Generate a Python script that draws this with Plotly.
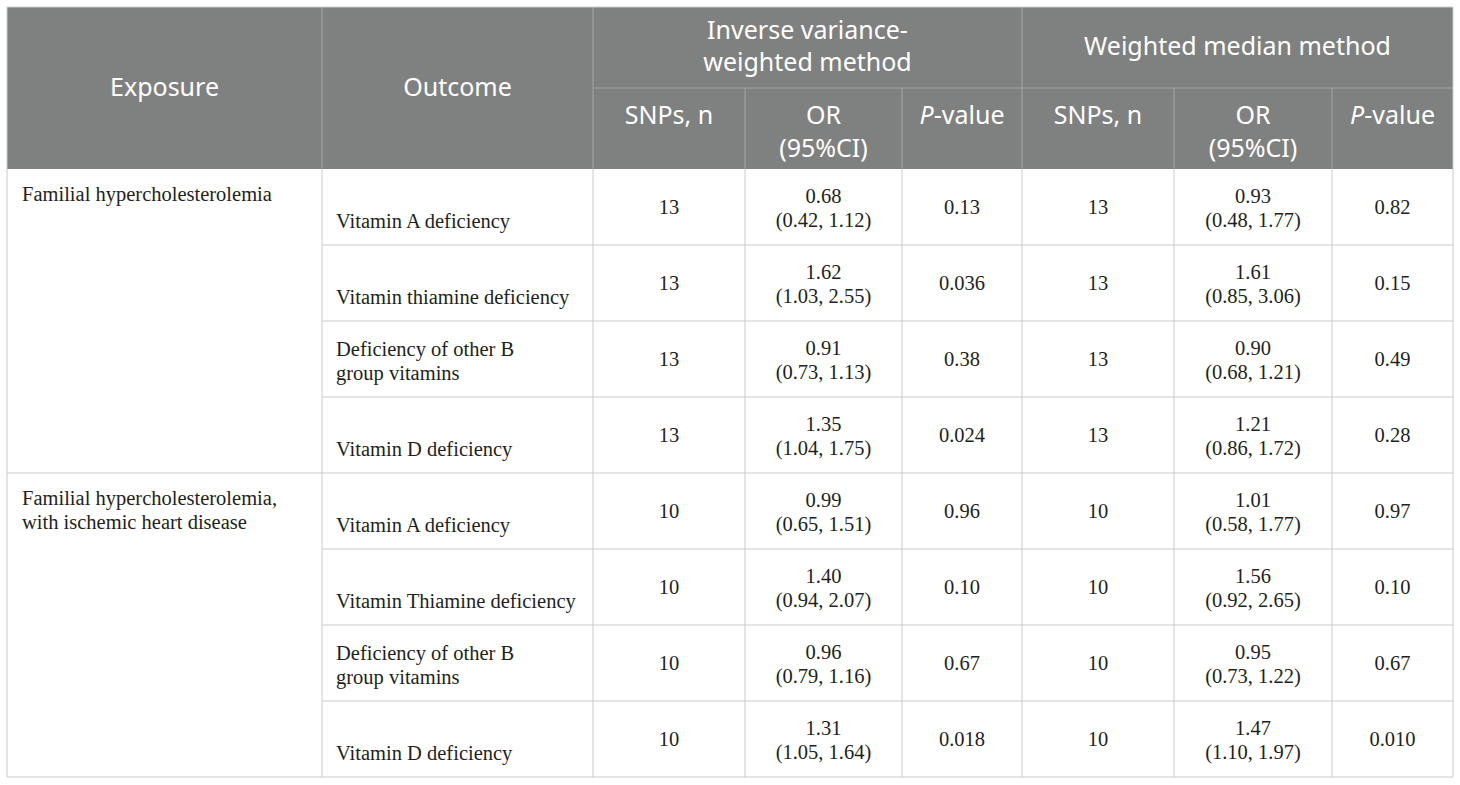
import plotly.graph_objects as go

# ---- table content ----
exposures = ["Familial hypercholesterolemia",
             "Familial hypercholesterolemia,<br>with ischemic heart disease"]
outcomes = ["Vitamin A deficiency", "Vitamin thiamine deficiency",
            "Deficiency of other B<br>group vitamins", "Vitamin D deficiency",
            "Vitamin A deficiency", "Vitamin Thiamine deficiency",
            "Deficiency of other B<br>group vitamins", "Vitamin D deficiency"]
head_left = ["Exposure", "Outcome"]
methods = ["Inverse variance-<br>weighted method", "Weighted median method"]
sub_cols = ["SNPs, n", "OR<br>(95%CI)", "<i>P</i>-value"]

ivw_snps = [13, 13, 13, 13, 10, 10, 10, 10]
ivw_or = ["0.68", "1.62", "0.91", "1.35", "0.99", "1.40", "0.96", "1.31"]
ivw_ci = ["(0.42, 1.12)", "(1.03, 2.55)", "(0.73, 1.13)", "(1.04, 1.75)",
          "(0.65, 1.51)", "(0.94, 2.07)", "(0.79, 1.16)", "(1.05, 1.64)"]
ivw_p = ["0.13", "0.036", "0.38", "0.024", "0.96", "0.10", "0.67", "0.018"]

wm_snps = [13, 13, 13, 13, 10, 10, 10, 10]
wm_or = ["0.93", "1.61", "0.90", "1.21", "1.01", "1.56", "0.95", "1.47"]
wm_ci = ["(0.48, 1.77)", "(0.85, 3.06)", "(0.68, 1.21)", "(0.86, 1.72)",
         "(0.58, 1.77)", "(0.92, 2.65)", "(0.73, 1.22)", "(1.10, 1.97)"]
wm_p = ["0.82", "0.15", "0.49", "0.28", "0.97", "0.10", "0.67", "0.010"]

# ---- grid geometry (pixels) ----
W, H = 1460, 785
col_x = [7, 322, 593, 745, 902, 1022, 1174, 1332, 1453]
TOP, HEAD_MID, HEAD_BOT = 7, 88, 169
ROW_H = 76
PER_GROUP = len(outcomes) // len(exposures)
row_top = [HEAD_BOT + i * ROW_H for i in range(len(outcomes))]
BOTTOM = HEAD_BOT + len(outcomes) * ROW_H

HEAD_BG = "#7f8180"
HEAD_LINE = "#a3a4a3"
BODY_LINE = "#cacaca"
TEXT = "#231f20"
SANS = "Noto Sans"
SERIF = "Liberation Serif"
HEAD_SIZE = 25
HEAD_GAP = HEAD_SIZE * 1.3   # plotly's own line spacing for <br>
BODY_GAP = 24                # body lines are placed one by one


def center(c):
    return (col_x[c] + col_x[c + 1]) / 2


def put(store, x, y_first, label, gap):
    for i, line in enumerate(str(label).split("<br>")):
        store[0].append(x)
        store[1].append(y_first + i * gap)
        store[2].append(line)


def put_block(store, x, y_mid, label):
    store[0].append(x)
    store[1].append(y_mid)
    store[2].append(label)


head = ([], [], [])
body_c = ([], [], [])
body_l = ([], [], [])

# header texts (multi-line labels kept as one text)
for c, lab in enumerate(head_left):
    put_block(head, center(c), (TOP + HEAD_BOT) / 2 + 2, lab)
for m, lab in enumerate(methods):
    x = (col_x[2 + 3 * m] + col_x[5 + 3 * m]) / 2
    put_block(head, x, (TOP + HEAD_MID) / 2 + 1, lab)
for m in range(2):
    for k, lab in enumerate(sub_cols):
        n = lab.count("<br>")
        put_block(head, center(2 + 3 * m + k),
                  HEAD_MID + 30 + n * HEAD_GAP / 2, lab)

# body texts
for g, lab in enumerate(exposures):
    put(body_l, col_x[0] + 15, row_top[g * PER_GROUP] + 27, lab, BODY_GAP)
for r, lab in enumerate(outcomes):
    n = lab.count("<br>")
    put(body_l, col_x[1] + 14, row_top[r] + 54 - n * BODY_GAP, lab, BODY_GAP)

for m, (snps, orv, ci, p) in enumerate([(ivw_snps, ivw_or, ivw_ci, ivw_p),
                                        (wm_snps, wm_or, wm_ci, wm_p)]):
    c0 = 2 + 3 * m
    for r in range(len(outcomes)):
        t = row_top[r]
        put(body_c, center(c0), t + 40, snps[r], BODY_GAP)
        put(body_c, center(c0 + 1), t + 29, f"{orv[r]}<br>{ci[r]}", BODY_GAP)
        put(body_c, center(c0 + 2), t + 40, p[r], BODY_GAP)

fig = go.Figure()
fig.add_trace(go.Scatter(x=head[0], y=head[1], text=head[2], mode="text",
                         textposition="middle center",
                         textfont=dict(family=SANS, size=HEAD_SIZE,
                                       color="white")))
fig.add_trace(go.Scatter(x=body_c[0], y=body_c[1], text=body_c[2], mode="text",
                         textposition="middle center",
                         textfont=dict(family=SERIF, size=20.5, color=TEXT)))
fig.add_trace(go.Scatter(x=body_l[0], y=body_l[1], text=body_l[2], mode="text",
                         textposition="middle right",
                         textfont=dict(family=SERIF, size=20.5, color=TEXT)))

# ---- grid shapes ----
shapes = [dict(type="rect", x0=col_x[0], x1=col_x[-1], y0=TOP, y1=HEAD_BOT,
               fillcolor=HEAD_BG, line_width=0, layer="below")]


def vline(x, y0, y1, color):
    shapes.append(dict(type="line", x0=x, x1=x, y0=y0, y1=y1,
                       line=dict(color=color, width=1), layer="below"))


def hline(y, x0, x1, color):
    shapes.append(dict(type="line", x0=x0, x1=x1, y0=y, y1=y,
                       line=dict(color=color, width=1), layer="below"))


# header separators
for c in (1, 2, 5):
    vline(col_x[c], TOP, HEAD_BOT, HEAD_LINE)
for c in (3, 4, 6, 7):
    vline(col_x[c], HEAD_MID, HEAD_BOT, HEAD_LINE)
hline(HEAD_MID, col_x[2], col_x[-1], HEAD_LINE)

# body grid
for x in col_x:
    vline(x, HEAD_BOT, BOTTOM, BODY_LINE)
for r in range(1, len(outcomes)):
    x0 = col_x[0] if r % PER_GROUP == 0 else col_x[1]
    hline(row_top[r], x0, col_x[-1], BODY_LINE)
hline(BOTTOM, col_x[0], col_x[-1], BODY_LINE)
hline(TOP, col_x[0], col_x[-1], BODY_LINE)
vline(col_x[0], TOP, HEAD_BOT, BODY_LINE)
vline(col_x[-1], TOP, HEAD_BOT, BODY_LINE)

fig.update_layout(
    width=W, height=H,
    margin=dict(l=0, r=0, t=0, b=0),
    paper_bgcolor="white", plot_bgcolor="white",
    showlegend=False, hovermode=False,
    shapes=shapes,
    xaxis=dict(range=[0, W], visible=False, fixedrange=True),
    yaxis=dict(range=[H, 0], visible=False, fixedrange=True),
)

fig.write_html("out.html", config={"displayModeBar": False},
               post_script="document.body.style.margin='0';")
